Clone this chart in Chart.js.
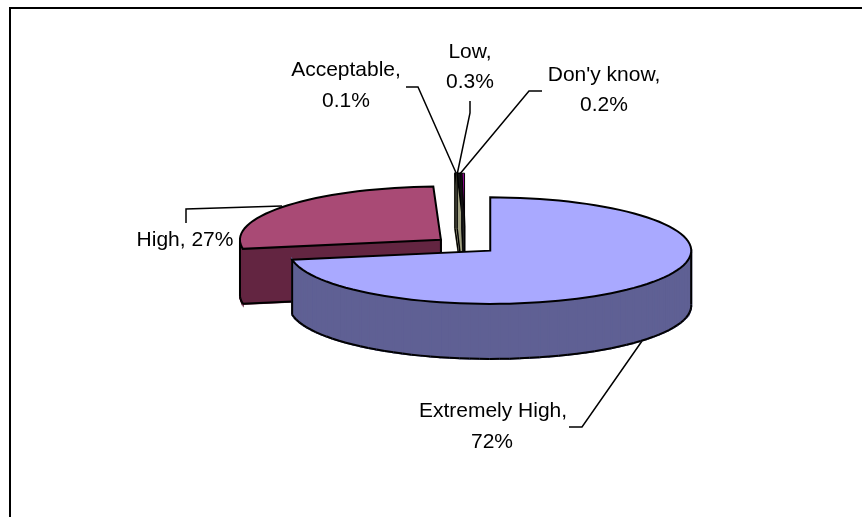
<!DOCTYPE html>
<html>
<head>
<meta charset="utf-8">
<title>Pie</title>
<script src="https://cdn.jsdelivr.net/npm/chart.js@4"></script>
<style>
  body { margin: 0; background: #fff; }
  canvas { display: block; }
</style>
</head>
<body>
<canvas id="chart1" width="862" height="517"></canvas>
<script>
  const categories = ["Extremely High", "High", "Acceptable", "Low", "Don'y know"];
  const shares = [72, 27, 0.1, 0.3, 0.2];

  const topColors = ["#A9A9FF", "#A94A75", "#FFFFCC", "#111111", "#8A0A8A"];
  const wallColors = ["#5F6094", "#632541", "#A0A080", "#A0A080", "#222222"];
  const outlineWidths = [2, 2, 1.5, 1.5, 1];
  const explode = [33, 31, 70, 70, 70];

  // the pie is squashed and given a wall by hand, chart.js only gives the angles
  const tilt = 0.265;
  const depth = 55;

  // label text centres and leader lines, same order as categories
  const labelLines = [
    [[493, 411, 0], [492, 442, 1]],
    [[185, 240, 2]],
    [[346, 70, 0], [346, 101, 1]],
    [[470, 52, 0], [470, 82, 1]],
    [[604, 75, 0], [604, 105, 1]],
  ];
  const leaders = [
    [[569, 427], [582, 427], [642, 341]],
    [[186, 223], [186, 209], [282, 206]],
    [[406, 87], [418, 87], [457, 175]],
    [[470, 101], [470, 113], [457, 175]],
    [[542, 91], [529, 91], [459, 175]],
  ];

  function sliceOutline(arc, cy) {
    const { x, y, startAngle, endAngle, outerRadius } = arc.getProps(["x", "y", "startAngle", "endAngle", "outerRadius"]);
    const mid = (startAngle + endAngle) / 2;
    const off = arc.options.offset;
    const ox = x + Math.cos(mid) * off;
    const oy = y + Math.sin(mid) * off;
    const project = (px, py) => [px, cy + (py - cy) * tilt];
    const pts = [project(ox, oy)];
    const steps = Math.max(2, Math.ceil((endAngle - startAngle) / 0.05));
    for (let i = 0; i <= steps; i++) {
      const a = startAngle + ((endAngle - startAngle) * i) / steps;
      pts.push(project(ox + Math.cos(a) * outerRadius, oy + Math.sin(a) * outerRadius));
    }
    return pts;
  }

  function drawSlice(ctx, pts, top, wall, width) {
    ctx.lineJoin = "miter";
    const n = pts.length;
    const front = [];
    for (let i = 0; i < n; i++) {
      front.push(pts[(i + 1) % n][0] < pts[i][0]);
    }
    // walls facing the viewer, edges running leftwards on screen
    ctx.fillStyle = wall;
    ctx.strokeStyle = wall;
    ctx.lineWidth = 2;
    for (let i = 0; i < n; i++) {
      if (!front[i]) continue;
      const p = pts[i];
      const q = pts[(i + 1) % n];
      ctx.beginPath();
      ctx.moveTo(p[0], p[1]);
      ctx.lineTo(q[0], q[1]);
      ctx.lineTo(q[0], q[1] + depth);
      ctx.lineTo(p[0], p[1] + depth);
      ctx.closePath();
      ctx.fill();
      ctx.stroke();
    }
    ctx.strokeStyle = "#000";
    ctx.lineWidth = width;
    for (let i = 0; i < n; i++) {
      if (front[i]) {
        const p = pts[i];
        const q = pts[(i + 1) % n];
        ctx.beginPath();
        ctx.moveTo(p[0], p[1] + depth);
        ctx.lineTo(q[0], q[1] + depth);
        ctx.stroke();
      }
      if (front[i] !== front[(i + n - 1) % n]) {
        ctx.beginPath();
        ctx.moveTo(pts[i][0], pts[i][1]);
        ctx.lineTo(pts[i][0], pts[i][1] + depth);
        ctx.stroke();
      }
    }
    ctx.fillStyle = top;
    ctx.beginPath();
    pts.forEach((p, i) => (i ? ctx.lineTo(p[0], p[1]) : ctx.moveTo(p[0], p[1])));
    ctx.closePath();
    ctx.fill();
    ctx.stroke();
  }

  const pie3d = {
    id: "pie3d",
    beforeDatasetsDraw(chart) {
      const ctx = chart.ctx;
      const arcs = chart.getDatasetMeta(0).data;
      const cy = arcs[0].y;

      ctx.save();
      ctx.strokeStyle = "#000";
      ctx.lineWidth = 2;
      ctx.strokeRect(10, 8, 1000, 1000);

      // leaders sit under the slices
      ctx.lineWidth = 1.5;
      leaders.forEach((line) => {
        ctx.beginPath();
        line.forEach((p, i) => (i ? ctx.lineTo(p[0], p[1]) : ctx.moveTo(p[0], p[1])));
        ctx.stroke();
      });

      // back to front
      [2, 3, 4, 1, 0].forEach((i) => {
        drawSlice(ctx, sliceOutline(arcs[i], cy), topColors[i], wallColors[i], outlineWidths[i]);
      });

      ctx.fillStyle = "#000";
      ctx.font = "21px 'Liberation Sans'";
      ctx.textAlign = "center";
      ctx.textBaseline = "middle";
      labelLines.forEach((lines, i) => {
        lines.forEach(([x, y, kind]) => {
          const pct = shares[i] + "%";
          const text = kind === 0 ? categories[i] + "," : kind === 1 ? pct : categories[i] + ", " + pct;
          ctx.fillText(text, x, y);
        });
      });
      ctx.restore();
      return false;
    },
  };

  new Chart(document.getElementById("chart1"), {
    type: "pie",
    data: {
      labels: categories,
      datasets: [{ data: shares, backgroundColor: topColors, offset: explode }],
    },
    options: {
      responsive: false,
      animation: false,
      radius: 201,
      layout: { padding: { left: 68, bottom: 27 } },
      plugins: { legend: { display: false }, tooltip: { enabled: false } },
    },
    plugins: [pie3d],
  });
</script>
</body>
</html>
